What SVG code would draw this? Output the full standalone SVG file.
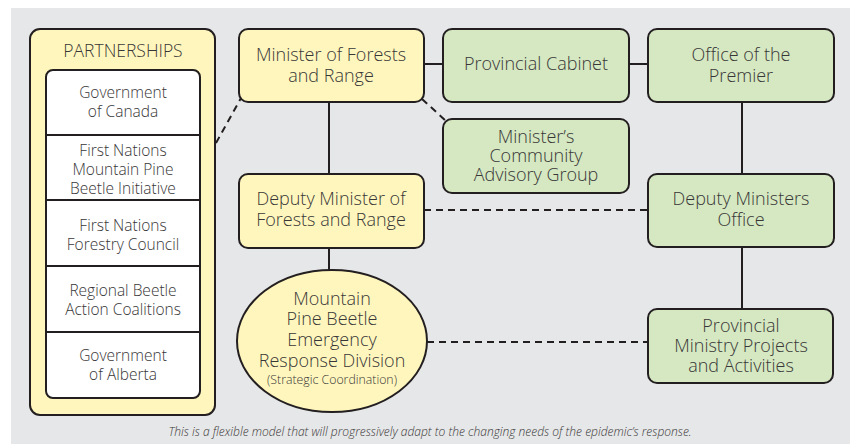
<svg xmlns="http://www.w3.org/2000/svg" width="850" height="444" viewBox="0 0 850 444">
  <style>
    .box { stroke: #231f20; stroke-width: 2; }
    .yellow { fill: #fff6bd; }
    .green { fill: #d5e8c1; }
    .white { fill: #ffffff; }
    .lbl { font-family: "Open Sans", "Noto Sans", sans-serif; font-weight: 300; fill: #383637; text-anchor: middle; }
    .main { font-size: 18px; }
    .side { font-size: 15.5px; }
    .small { font-size: 12.3px; }
    .solid { stroke: #231f20; stroke-width: 2; fill: none; }
    .dash { stroke: #231f20; stroke-width: 2; fill: none; stroke-dasharray: 7 5; }
    .note { font-family: "Open Sans", "Noto Sans", sans-serif; font-weight: 300; font-style: italic; font-size: 12px; fill: #383637; text-anchor: middle; }
  </style>

  <!-- panel background -->
  <rect x="11" y="8" width="839" height="436" fill="#e6e7e8"/>

  <!-- connectors -->
  <g id="connectors">
    <line class="solid" x1="424" y1="64" x2="443" y2="64"/>
    <line class="solid" x1="629" y1="64" x2="648" y2="64"/>
    <line class="solid" x1="329" y1="102" x2="329" y2="174"/>
    <line class="solid" x1="329" y1="248" x2="329" y2="270"/>
    <line class="solid" x1="742" y1="102" x2="742" y2="174"/>
    <line class="solid" x1="742" y1="247" x2="742" y2="309"/>
    <line class="dash" x1="424" y1="210" x2="648" y2="210"/>
    <line class="dash" x1="427" y1="342" x2="648" y2="342"/>
    <line class="dash" x1="216" y1="143" x2="241" y2="98"/>
    <line class="dash" x1="422" y1="99" x2="446" y2="121"/>
  </g>

  <!-- partnerships panel -->
  <g id="partnerships">
    <rect class="box yellow" x="30" y="29" width="185" height="386" rx="10"/>
    <text class="lbl" x="123" y="57" style="font-size:17.5px">PARTNERSHIPS</text>
    <rect class="box white" x="46" y="70" width="154" height="328" rx="7"/>
    <line class="solid" x1="46" y1="135" x2="200" y2="135"/>
    <line class="solid" x1="46" y1="200" x2="200" y2="200"/>
    <line class="solid" x1="46" y1="266" x2="200" y2="266"/>
    <line class="solid" x1="46" y1="332" x2="200" y2="332"/>
    <text class="lbl side" x="123" y="98">Government</text>
    <text class="lbl side" x="123" y="117">of Canada</text>
    <text class="lbl side" x="123" y="156">First Nations</text>
    <text class="lbl side" x="123" y="175">Mountain Pine</text>
    <text class="lbl side" x="123" y="194">Beetle Initiative</text>
    <text class="lbl side" x="123" y="231">First Nations</text>
    <text class="lbl side" x="123" y="250">Forestry Council</text>
    <text class="lbl side" x="123" y="296">Regional Beetle</text>
    <text class="lbl side" x="123" y="315">Action Coalitions</text>
    <text class="lbl side" x="123" y="361">Government</text>
    <text class="lbl side" x="123" y="380">of Alberta</text>
  </g>

  <g id="minister">
    <rect class="box yellow" x="239" y="29" width="185" height="73" rx="9"/>
    <text class="lbl main" x="331" y="61">Minister of Forests</text>
    <text class="lbl main" x="331" y="82">and Range</text>
  </g>

  <g id="cabinet">
    <rect class="box green" x="443" y="29" width="186" height="73" rx="9"/>
    <text class="lbl main" x="536" y="70">Provincial Cabinet</text>
  </g>

  <g id="premier">
    <rect class="box green" x="648" y="29" width="186" height="73" rx="9"/>
    <text class="lbl main" x="741" y="61">Office of the</text>
    <text class="lbl main" x="741" y="82">Premier</text>
  </g>

  <g id="advisory">
    <rect class="box green" x="443" y="119" width="186" height="74" rx="9"/>
    <text class="lbl main" x="536" y="143">Minister’s</text>
    <text class="lbl main" x="536" y="162">Community</text>
    <text class="lbl main" x="536" y="181">Advisory Group</text>
  </g>

  <g id="deputy-minister">
    <rect class="box yellow" x="239" y="174" width="185" height="74" rx="9"/>
    <text class="lbl main" x="331" y="205">Deputy Minister of</text>
    <text class="lbl main" x="331" y="226">Forests and Range</text>
  </g>

  <g id="deputy-office">
    <rect class="box green" x="648" y="174" width="186" height="73" rx="9"/>
    <text class="lbl main" x="741" y="205">Deputy Ministers</text>
    <text class="lbl main" x="741" y="226">Office</text>
  </g>

  <g id="division">
    <ellipse class="box yellow" cx="332" cy="341" rx="95" ry="71"/>
    <text class="lbl main" x="332" y="305">Mountain</text>
    <text class="lbl main" x="332" y="325">Pine Beetle</text>
    <text class="lbl main" x="332" y="346">Emergency</text>
    <text class="lbl main" x="332" y="367">Response Division</text>
    <text class="lbl small" x="332" y="384">(Strategic Coordination)</text>
  </g>

  <g id="projects">
    <rect class="box green" x="648" y="309" width="185" height="74" rx="9"/>
    <text class="lbl main" x="741" y="332">Provincial</text>
    <text class="lbl main" x="741" y="352">Ministry Projects</text>
    <text class="lbl main" x="741" y="372">and Activities</text>
  </g>

  <text class="note" x="430" y="436">This is a flexible model that will progressively adapt to the changing needs of the epidemic’s response.</text>
</svg>
